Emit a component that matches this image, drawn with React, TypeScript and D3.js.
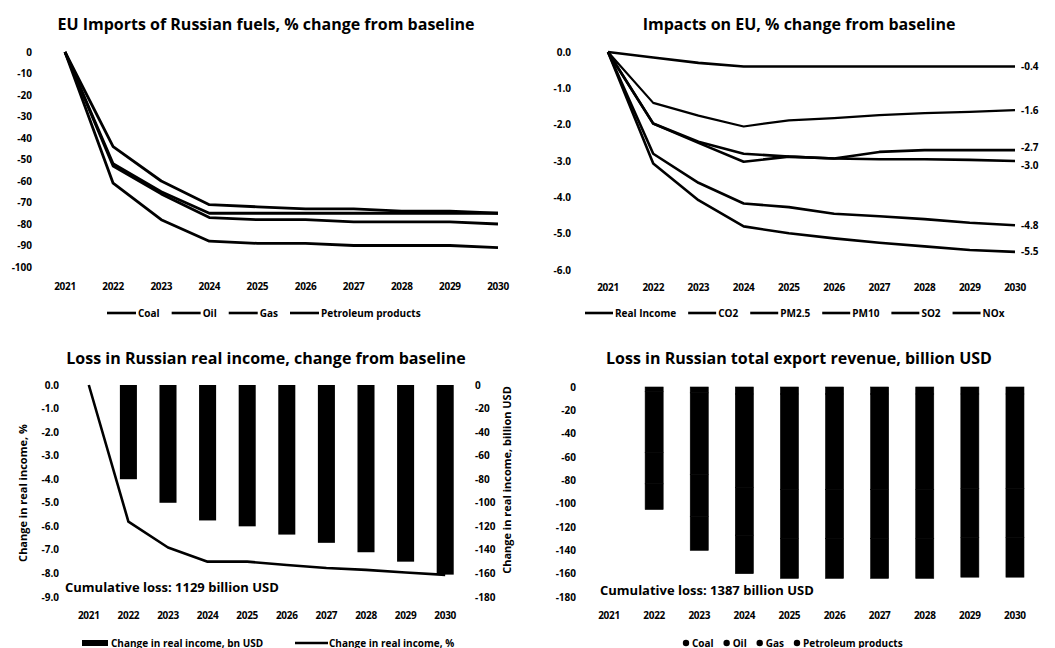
import React, { useEffect, useRef } from 'react';
import * as d3 from 'd3';

const years = ['2021', '2022', '2023', '2024', '2025', '2026', '2027', '2028', '2029', '2030'];

// EU imports of Russian fuels, % change from baseline
const fuelNames = ['Coal', 'Oil', 'Gas', 'Petroleum products'];
const coalImports = [0, -44, -60, -71, -72, -73, -73, -74, -74, -75];
const oilImports = [0, -52, -65, -75, -75, -75, -75, -75, -75, -75];
const gasImports = [0, -53, -66, -77, -78, -78, -79, -79, -79, -80];
const petroleumImports = [0, -61, -78, -88, -89, -89, -90, -90, -90, -91];

// Impacts on EU, % change from baseline
const impactNames = ['Real Income', 'CO2', 'PM2.5', 'PM10', 'SO2', 'NOx'];
const realIncomeEU = [0, -0.15, -0.3, -0.4, -0.4, -0.4, -0.4, -0.4, -0.4, -0.4];
const co2EU = [0, -1.4, -1.75, -2.05, -1.88, -1.82, -1.74, -1.68, -1.65, -1.6];
const pm25EU = [0, -1.97, -2.47, -2.8, -2.88, -2.93, -2.75, -2.7, -2.7, -2.7];
const pm10EU = [0, -1.97, -2.5, -3.02, -2.88, -2.93, -2.95, -2.95, -2.97, -3.0];
const so2EU = [0, -2.8, -3.6, -4.17, -4.27, -4.45, -4.52, -4.6, -4.7, -4.77];
const noxEU = [0, -3.07, -4.08, -4.8, -4.99, -5.13, -5.25, -5.35, -5.45, -5.5];
const impactEndLabels = ['-0.4', '-1.6', '-2.7', '-3.0', '-4.8', '-5.5'];

// Loss in Russian real income
const realIncomeBn = [0, -80, -100, -115, -120, -127, -134, -142, -150, -161];
const realIncomePct = [0, -5.8, -6.9, -7.5, -7.5, -7.64, -7.77, -7.85, -7.96, -8.06];

// Loss in Russian total export revenue, billion USD (stacked)
const coalRevenue = [0, -4, -5, -6, -6, -6, -6, -6, -6, -6];
const oilRevenue = [0, -52, -70, -80, -82, -82, -82, -82, -81, -81];
const gasRevenue = [0, -27, -36, -41, -42, -42, -42, -42, -42, -42];
const petroleumRevenue = [0, -22, -29, -33, -34, -34, -34, -34, -34, -34];

const FONT = '"Open Sans", Lato, sans-serif';
const INK = '#000';

function yLabels(g: any, scale: any, values: number[], x: number, anchor: string, fmt: (v: number) => string) {
    g.selectAll(null)
        .data(values)
        .enter()
        .append('text')
        .attr('x', x)
        .attr('y', (d: number) => scale(d))
        .attr('dy', '0.35em')
        .attr('text-anchor', anchor)
        .attr('font-size', 10)
        .attr('font-weight', 700)
        .text(fmt);
}

function xLabels(g: any, xPos: (d: string) => number, y: number) {
    g.selectAll(null)
        .data(years)
        .enter()
        .append('text')
        .attr('x', (d: string) => xPos(d))
        .attr('y', y)
        .attr('dy', '0.35em')
        .attr('text-anchor', 'middle')
        .attr('font-size', 10)
        .attr('font-weight', 700)
        .attr('letter-spacing', -0.3)
        .text((d: string) => d);
}

function title(g: any, text: string, x: number, y: number) {
    g.append('text')
        .attr('x', x)
        .attr('y', y)
        .attr('text-anchor', 'middle')
        .attr('font-size', 16)
        .attr('font-weight', 700)
        .text(text);
}

// legend laid out left to right, measuring each label
function legend(g: any, items: string[], x0: number, y: number, kind: 'line' | 'dot', gap: number, keyW: number) {
    let x = x0;
    items.forEach((name) => {
        if (kind === 'line') {
            g.append('line').attr('x1', x).attr('x2', x + keyW).attr('y1', y).attr('y2', y)
                .attr('stroke', INK).attr('stroke-width', 2.6);
        } else {
            g.append('circle').attr('cx', x + 3).attr('cy', y).attr('r', 3.2).attr('fill', INK);
        }
        const t = g.append('text')
            .attr('x', x + keyW + 2)
            .attr('y', y)
            .attr('dy', '0.35em')
            .attr('font-size', 10)
            .attr('font-weight', 700)
            .text(name);
        const w = (t.node() as SVGTextElement).getComputedTextLength();
        x += keyW + 2 + w + gap;
    });
}

export default function App() {
    const ref = useRef<SVGSVGElement>(null);

    useEffect(() => {
        const svg = d3.select(ref.current);
        svg.selectAll('*').remove();
        const root = svg.append('g').attr('font-family', FONT).attr('fill', INK);

        // ---------- panel 1 ----------
        {
            const g = root.append('g');
            const x = d3.scalePoint<string>().domain(years).range([65, 498]);
            const y = d3.scaleLinear().domain([0, -100]).range([52, 267]);
            title(g, 'EU Imports of Russian fuels, % change from baseline', 266, 30);
            yLabels(g, y, d3.range(0, -101, -10), 32, 'end', (d) => String(d));
            xLabels(g, (d) => x(d) as number, 286);
            const line = d3.line<number>().x((_, i) => x(years[i]) as number).y((d) => y(d));
            [coalImports, oilImports, gasImports, petroleumImports].forEach((s) => {
                g.append('path').attr('d', line(s)).attr('fill', 'none')
                    .attr('stroke', INK).attr('stroke-width', 2.8).attr('stroke-linejoin', 'round');
            });
            legend(g, fuelNames, 107, 313, 'line', 12, 29);
        }

        // ---------- panel 2 ----------
        {
            const g = root.append('g');
            const x = d3.scalePoint<string>().domain(years).range([608, 1015]);
            const y = d3.scaleLinear().domain([0, -6]).range([52, 270]);
            title(g, 'Impacts on EU, % change from baseline', 799, 30);
            yLabels(g, y, d3.range(0, -6.01, -1), 571, 'end', (d) => d.toFixed(1));
            xLabels(g, (d) => x(d) as number, 287);
            const line = d3.line<number>().x((_, i) => x(years[i]) as number).y((d) => y(d));
            const series = [realIncomeEU, co2EU, pm25EU, pm10EU, so2EU, noxEU];
            series.forEach((s, i) => {
                g.append('path').attr('d', line(s)).attr('fill', 'none')
                    .attr('stroke', INK).attr('stroke-width', i === 1 ? 2.2 : 2.6).attr('stroke-linejoin', 'round');
                const last = s[s.length - 1];
                g.append('text')
                    .attr('x', 1021)
                    .attr('y', y(last) + (i === 3 ? 4 : i === 2 ? -3 : 0))
                    .attr('dy', '0.35em')
                    .attr('font-size', 10)
                    .attr('font-weight', 700)
                    .text(impactEndLabels[i]);
            });
            legend(g, impactNames, 585, 313, 'line', 12, 28);
        }

        // ---------- panel 3 ----------
        {
            const g = root.append('g');
            const x = d3.scaleBand<string>().domain(years).range([69, 465]).paddingInner(0.57).paddingOuter(0.285);
            const yL = d3.scaleLinear().domain([0, -9]).range([385, 597]);
            const yR = d3.scaleLinear().domain([0, -180]).range([385, 597]);
            const cx = (d: string) => (x(d) as number) + x.bandwidth() / 2;
            title(g, 'Loss in Russian real income, change from baseline', 266, 364);
            yLabels(g, yL, d3.range(0, -9.01, -1), 59, 'end', (d) => d.toFixed(1));
            yLabels(g, yR, d3.range(0, -181, -20), 475, 'start', (d) => String(d));
            xLabels(g, cx, 615);
            g.selectAll(null).data(realIncomeBn).enter().append('rect')
                .attr('x', (_: number, i: number) => x(years[i]) as number)
                .attr('y', yR(0))
                .attr('width', x.bandwidth())
                .attr('height', (d: number) => yR(d) - yR(0))
                .attr('fill', INK);
            const line = d3.line<number>().x((_, i) => cx(years[i])).y((d) => yL(d));
            g.append('path').attr('d', line(realIncomePct)).attr('fill', 'none')
                .attr('stroke', INK).attr('stroke-width', 2.6).attr('stroke-linejoin', 'round');
            g.append('text').attr('x', 65).attr('y', 587).attr('dy', '0.35em')
                .attr('font-size', 13).attr('font-weight', 700).text('Cumulative loss: 1129 billion USD');
            g.append('text').attr('transform', 'translate(27,493) rotate(-90)')
                .attr('text-anchor', 'middle').attr('font-size', 11).attr('font-weight', 700)
                .text('Change in real income, %');
            g.append('text').attr('transform', 'translate(511,480) rotate(-90)')
                .attr('text-anchor', 'middle').attr('font-size', 11).attr('font-weight', 700)
                .text('Change in real income, billion USD');
            // legend
            g.append('rect').attr('x', 82).attr('y', 640).attr('width', 26).attr('height', 6).attr('fill', INK);
            g.append('text').attr('x', 111).attr('y', 643).attr('dy', '0.35em')
                .attr('font-size', 10).attr('font-weight', 700).text('Change in real income, bn USD');
            g.append('line').attr('x1', 295).attr('x2', 328).attr('y1', 643).attr('y2', 643)
                .attr('stroke', INK).attr('stroke-width', 2.4);
            g.append('text').attr('x', 329).attr('y', 643).attr('dy', '0.35em')
                .attr('font-size', 10).attr('font-weight', 700).text('Change in real income, %');
        }

        // ---------- panel 4 ----------
        {
            const g = root.append('g');
            const x = d3.scaleBand<string>().domain(years).range([586.5, 1037.5]).paddingInner(0.6).paddingOuter(0.3);
            const y = d3.scaleLinear().domain([0, -180]).range([387, 597]);
            const cx = (d: string) => (x(d) as number) + x.bandwidth() / 2;
            title(g, 'Loss in Russian total export revenue, billion USD', 799, 364);
            yLabels(g, y, d3.range(0, -181, -20), 576, 'end', (d) => String(d));
            xLabels(g, cx, 615);
            const rows = years.map((yr, i) => ({
                year: yr,
                Coal: -coalRevenue[i],
                Oil: -oilRevenue[i],
                Gas: -gasRevenue[i],
                'Petroleum products': -petroleumRevenue[i],
            }));
            const stack = d3.stack<any>().keys(fuelNames)(rows);
            stack.forEach((layer) => {
                g.selectAll(null).data(layer).enter().append('rect')
                    .attr('x', (d: any) => x(d.data.year) as number)
                    .attr('y', (d: any) => y(-d[0]))
                    .attr('width', x.bandwidth())
                    .attr('height', (d: any) => y(-d[1]) - y(-d[0]))
                    .attr('fill', INK)
                    .attr('stroke', INK)
                    .attr('stroke-width', 0.6);
            });
            g.append('text').attr('x', 600).attr('y', 590).attr('dy', '0.35em')
                .attr('font-size', 13).attr('font-weight', 700).text('Cumulative loss: 1387 billion USD');
            legend(g, fuelNames, 683, 643, 'dot', 10, 7);
        }
    }, []);

    return (
        <svg ref={ref} width={1055} height={648} style={{ position: 'absolute', left: 0, top: 0, background: '#fff' }} />
    );
}
